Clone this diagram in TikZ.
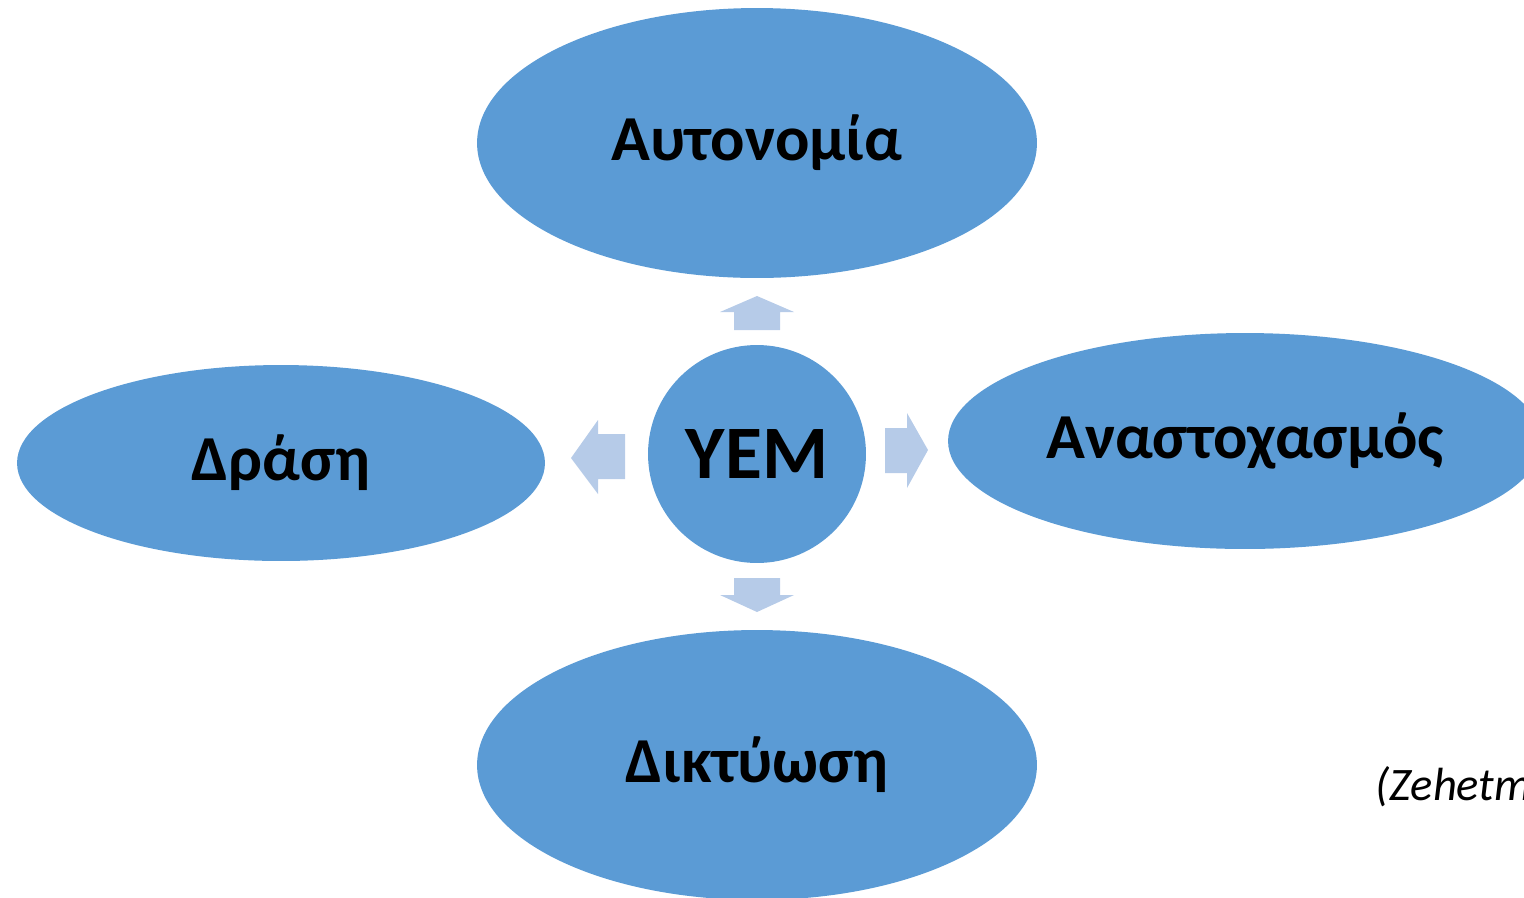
\documentclass[tikz,border=0pt]{standalone}
\usepackage{fontspec}
\setmainfont{Carlito}
\usetikzlibrary{shapes.geometric}

\definecolor{bubble}{RGB}{91,155,213}
\definecolor{pointer}{RGB}{182,203,232}

\begin{document}
\begin{tikzpicture}[x=0.02cm,y=-0.02cm,
	bubble/.style={ellipse,fill=bubble,inner sep=0pt,font=\bfseries\fontsize{36.5}{42}\selectfont},
	hub/.style={circle,fill=bubble,inner sep=0pt,minimum size=4.36cm,font=\bfseries\fontsize{43}{50}\selectfont},
	pointer/.style={fill=pointer}]
	\useasboundingbox (0,0) rectangle (1524,897);
	\clip (0,0) rectangle (1524,897);

	\node[hub] (yem) at (757,454) {YEM};
	\node[bubble,minimum width=11.2cm,minimum height=5.4cm] (auto) at (757,143) {Αυτονομία};
	\node[bubble,minimum width=10.56cm,minimum height=3.92cm] (drasi) at (281,463) {Δράση};
	\node[bubble,minimum width=11.88cm,minimum height=4.32cm] (anast) at (1245,441) {Αναστοχασμός};
	\node[bubble,minimum width=11.2cm,minimum height=5.4cm] (dikt) at (757,765) {Δικτύωση};

	% arrows out of the hub
	\fill[pointer] (734,330) -- (734,312) -- (720,312) -- (757,296) -- (794,312) -- (780,312) -- (780,330) -- cycle;
	\fill[pointer] (734,578) -- (734,595) -- (720,595) -- (757,612) -- (794,595) -- (780,595) -- (780,578) -- cycle;
	\fill[pointer] (625,434) -- (598,434) -- (598,420) -- (571,458) -- (598,494) -- (598,479) -- (625,479) -- cycle;
	\fill[pointer] (885,428) -- (907,428) -- (907,413) -- (928,450) -- (907,488) -- (907,473) -- (885,473) -- cycle;

	\node[anchor=base west,font=\itshape\fontsize{26.5}{31}\selectfont,inner sep=0pt] (ref) at (1375,800) {(Zehetm};
\end{tikzpicture}
\end{document}
